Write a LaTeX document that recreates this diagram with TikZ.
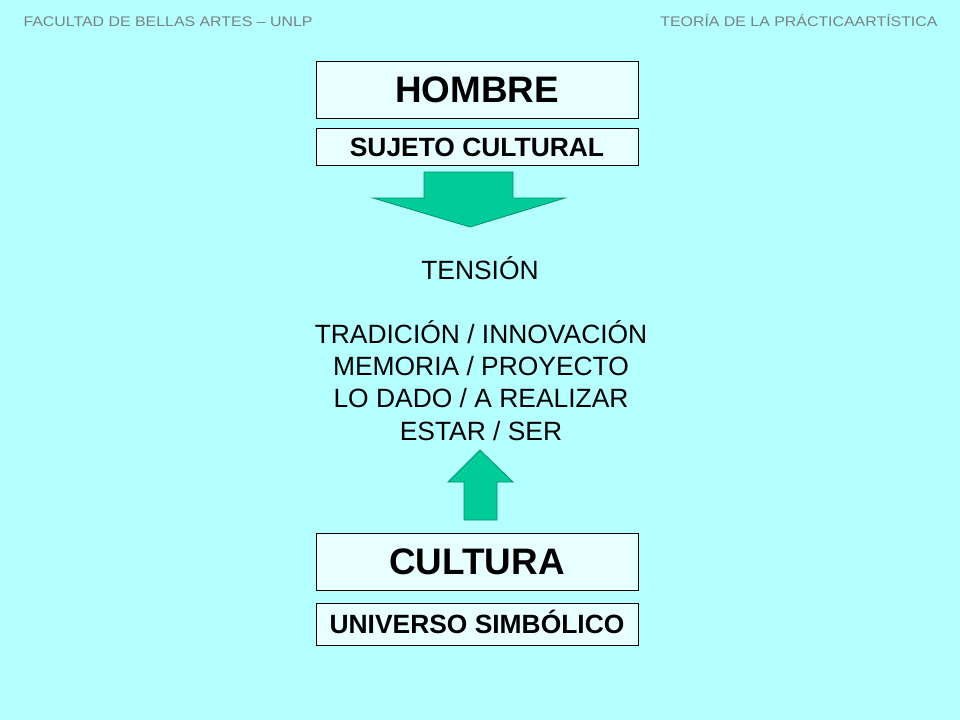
\documentclass[tikz,border=0pt]{standalone}
\usepackage{fontspec}
\setmainfont{Liberation Sans}
\newfontfamily\piefont[FakeStretch=1.14]{Liberation Sans}
\usetikzlibrary{positioning}
\definecolor{fondo}{RGB}{180,255,255}
\definecolor{relleno}{RGB}{232,255,255}
\definecolor{flecha}{RGB}{0,204,153}
\definecolor{bordeflecha}{RGB}{0,150,100}
\definecolor{gris}{RGB}{120,130,130}
\begin{document}
\begin{tikzpicture}[x=1bp,y=-1bp,
	caja/.style={rectangle,draw=black,thin,fill=relleno,minimum width=322bp,inner sep=0pt,text depth=0pt},
	grande/.style={caja,minimum height=57bp,text height=26bp,font=\bfseries\fontsize{37}{40}\selectfont},
	chica/.style={caja,text height=19bp,font=\bfseries\fontsize{26.5}{30}\selectfont},
	linea/.style={anchor=base,font=\fontsize{26.5}{30}\selectfont},
	pie/.style={anchor=base,text=gris,font=\piefont\fontsize{14}{16}\selectfont},
	bloque/.style={fill=flecha,draw=bordeflecha,line width=0.8bp,line join=miter}]
	\fill[fondo] (0,0) rectangle (960,720);
	\node[pie,anchor=base west] (facultad) at (20,27) {FACULTAD DE BELLAS ARTES – UNLP};
	\node[pie,anchor=base east] (catedra) at (941,27) {TEORÍA DE LA PRÁCTICAARTÍSTICA};
	\node[grande] (hombre) at (477,89.5) {HOMBRE};
	\node[chica,minimum height=37bp,below=10bp of hombre] (sujeto) {SUJETO CULTURAL};
	\node[grande] (cultura) at (477,561.5) {CULTURA};
	\node[chica,minimum height=42bp,below=13bp of cultura] (universo) {UNIVERSO SIMBÓLICO};
	% flechas
	\draw[bloque] (424,172) -- (513,172) -- (513,198) -- (565,198) -- (470,227) -- (373,198) -- (424,198) -- cycle;
	\draw[bloque] (464,520) -- (497,520) -- (497,482) -- (513,482) -- (480,450) -- (448,482) -- (464,482) -- cycle;
	\node[linea] (tension) at (480,279) {TENSIÓN};
	\foreach \t [count=\i from 0] in {TRADICIÓN / INNOVACIÓN,MEMORIA / PROYECTO,LO DADO / A REALIZAR,ESTAR / SER}
		\node[linea] (par\i) at (481,343+32.4*\i) {\t};
\end{tikzpicture}
\end{document}
